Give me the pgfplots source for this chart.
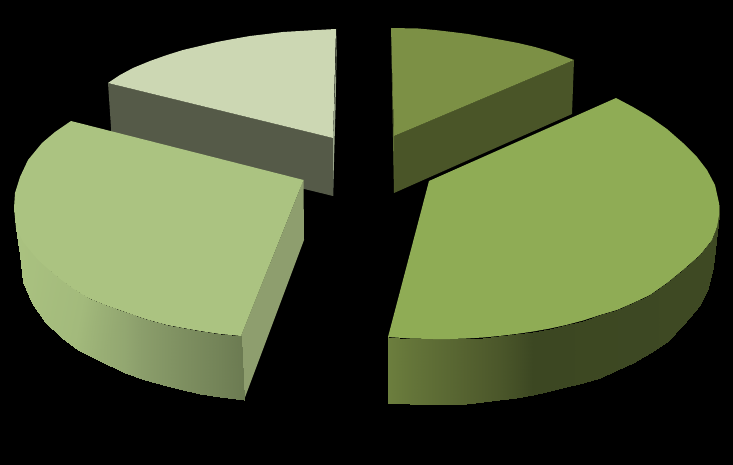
\documentclass[border=0pt]{standalone}
\usepackage{pgfplots}
\pgfplotsset{compat=1.18}
\usepgfplotslibrary{patchplots}

\definecolor{paleTop}{HTML}{CCD7B3}
\definecolor{paleSide}{HTML}{555A48}
\definecolor{paleEdge}{HTML}{9AA58A}
\definecolor{oliveTop}{HTML}{7C9045}
\definecolor{oliveSide}{HTML}{4A5528}
\definecolor{oliveEdge}{HTML}{5F6E35}
\definecolor{leftTop}{HTML}{ABC381}
\definecolor{leftCut}{HTML}{8E9E6E}
\definecolor{rightTop}{HTML}{8FAC55}

\begin{document}
\begin{tikzpicture}
\begin{axis}[
    scale only axis, width=733pt, height=465pt,
    xmin=0, xmax=733, ymin=0, ymax=465, y dir=reverse,
    ticks=none, axis line style={draw=none},
    axis background/.style={fill=black},
    point meta min=0, point meta max=3,
    colormap={sides}{
        rgb255(0)=(170,194,128) rgb255(0.3)=(163,186,124) rgb255(0.55)=(140,159,108) rgb255(1)=(108,123,82)
        rgb255(2)=(108,126,62) rgb255(2.3)=(80,92,45) rgb255(2.5)=(60,71,34) rgb255(3)=(62,73,35)
    },
]
% pale slice, top left
\addplot[fill=paleSide, draw=none] coordinates {(108,83) (333,138) (333,196) (112,142)} --cycle;
\addplot[fill=paleEdge, draw=none] coordinates {(337,29) (335.5,110) (333,196) (333,138)} --cycle;
\addplot[fill=paleTop, draw=none] coordinates {
    (108,83) (120,75) (133,68) (150,61) (167,55) (183,50) (200,46) (217,42) (233,39)
    (250,36) (267,34) (283,32) (300,31) (317,30) (336,29) (333,138)} --cycle;
% olive slice, top right
\addplot[fill=oliveSide, draw=none] coordinates {(574,60) (394,136) (394,193) (572,114)} --cycle;
\addplot[fill=oliveEdge, draw=none] coordinates {(391,28) (394,136) (394,193) (392.5,110)} --cycle;
\addplot[fill=oliveTop, draw=none] coordinates {
    (391,28) (418,28.5) (435,30) (452,32) (468,34) (485,37) (502,40) (518,43) (535,47)
    (552,52) (574,60) (394,136)} --cycle;
% left big slice
\addplot[fill=leftCut, draw=none] coordinates {(241,336) (303.5,180) (304,240) (244,400)} --cycle;
\addplot[surf, shader=interp, mesh/cols=16, point meta=explicit] table[x=x, y=y, meta=c] {
x y c
14 205 0
15 218 0.01
16 228 0.02
23 242 0.05
38 260 0.1
55 275 0.18
72 288 0.25
88 298 0.32
105 305 0.4
125 312 0.48
145 319 0.58
167 325 0.68
183 328 0.75
200 331 0.82
220 334 0.9
241 336 1
16 228 0
18 242 0.01
20 255 0.02
23 282 0.05
32 303 0.1
45 322 0.18
62 338 0.25
78 350 0.32
98 360 0.4
125 373 0.48
145 380 0.58
167 386 0.68
183 390 0.75
200 394 0.82
220 397 0.9
244 400 1
};
\addplot[fill=leftTop, draw=none] coordinates {
    (71,121) (55,132) (42,143) (28,160) (20,177) (15,193) (14,208) (16,228) (23,242)
    (38,260) (55,275) (72,288) (88,298) (105,305) (125,312) (145,319) (167,325)
    (183,328) (200,331) (220,334) (241,336) (303.5,180)} --cycle;
% right big slice
\addplot[surf, shader=interp, mesh/cols=23, point meta=explicit] table[x=x, y=y, meta=c] {
x y c
388 337 2
410 338.5 2.08
433 339 2.15
450 339 2.2
466 338.5 2.25
483 337.5 2.3
499 336 2.35
516 334 2.42
533 331.5 2.5
550 328.5 2.55
566 325 2.6
583 320.5 2.65
600 315 2.7
617 310 2.75
633 303 2.8
650 295 2.85
667 283 2.9
683 270 2.93
700 255 2.95
712 240 2.97
717 227 3
719 215 3
719 205 3
388 403 2
410 404 2.08
433 404.5 2.15
450 404 2.2
466 403.5 2.25
483 402 2.3
499 400 2.35
516 397.5 2.42
533 395 2.5
550 391 2.55
566 387 2.6
583 383 2.65
600 378 2.7
617 370 2.75
633 363 2.8
650 353 2.85
667 342 2.9
683 325 2.93
700 305 2.95
708 288 2.97
713 267 3
715 243 3
717 227 3
};
\addplot[fill=rightTop, draw=none] coordinates {
    (616,98) (633,107) (650,117) (667,129) (683,143) (697,157) (707,170) (715,185) (719,203)
    (719,215) (717,227) (712,240) (700,255) (683,270) (667,283) (650,295) (633,303) (617,310)
    (600,315) (583,320.5) (566,325) (550,328.5) (533,331.5) (516,334) (499,336) (483,337.5)
    (466,338.5) (450,339) (433,339) (410,338.5) (388,337) (429,181)} --cycle;
\end{axis}
\end{tikzpicture}
\end{document}
